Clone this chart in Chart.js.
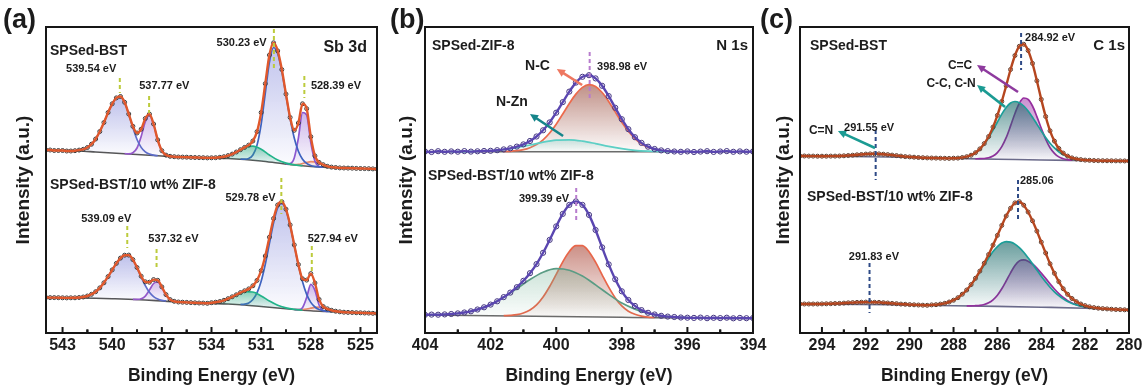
<!DOCTYPE html>
<html>
<head>
<meta charset="utf-8">
<title>XPS Sb 3d / N 1s / C 1s</title>
<script src="https://cdn.jsdelivr.net/npm/chart.js"></script>
<style>
  body { margin: 0; background: #fff; overflow: hidden; }
  #wrap { position: relative; width: 1146px; height: 387px; }
  canvas { position: absolute; top: 0; }
</style>
</head>
<body>
<div id="wrap">
  <canvas id="pa" width="385" height="387" style="left:0"></canvas>
  <canvas id="pb" width="390" height="387" style="left:385px"></canvas>
  <canvas id="pc" width="391" height="387" style="left:755px"></canvas>
</div>
<script>
// energy grids (eV), high -> low as on the axis
const range = (start, step, n) => Array.from({ length: n }, (_, i) => +(start - i * step).toFixed(2));

// ---------- (a) Sb 3d ----------
const aE = range(544, 0.25, 81);
const aTop = [183, 183, 182.5, 182.5, 182.5, 182, 182, 182.3, 182.9, 183.7, 185.5, 188.8, 194, 201.5, 210.5, 220.5,
  229.2, 235.1, 236.5, 230.7, 219, 206.7, 200, 203.8, 214.5, 218.9, 209, 193.1, 182.3, 177.9, 176.7, 176.3, 176,
  175.9, 175.8, 175.6, 175.5, 175.4, 175.3, 175.1, 175.2, 175.3, 175.7, 176.3, 177.4, 178.9, 181, 183.3, 185.6,
  187.9, 192, 201.3, 220.5, 249.3, 277.9, 290.2, 282.1, 263.4, 238.9, 215.6, 202.7, 210, 229.2, 224.3, 196.3,
  177.1, 170.6, 168.3, 166.7, 165.9, 165.5, 165.1, 165, 164.9, 164.8, 164.6, 164.5, 164.4, 164.3, 164.1, 164];
const aBot = [35.5, 35.4, 35.4, 35.3, 35.2, 35.1, 35.2, 35.2, 35.5, 36, 37, 38.7, 41.3, 45.1, 50.2, 56.4, 63.1,
  69.6, 74.9, 77.8, 77.9, 73.4, 65.5, 56.8, 51.2, 50.8, 53.4, 52.7, 46.1, 38.4, 33.4, 31.7, 31, 30.8, 30.6, 30.4,
  30.2, 30, 29.9, 29.7, 30.3, 30.8, 31.5, 32.7, 34.3, 36.2, 38.2, 40.4, 42.2, 44.1, 47.2, 52.6, 62.3, 77, 95.8,
  114.5, 128, 131.2, 123.8, 108.1, 88.1, 68.5, 54.2, 52.9, 59.4, 50, 33.6, 26.5, 24.2, 22.7, 21.8, 21.2, 20.8,
  20.6, 20.5, 20.3, 20.2, 20, 19.9, 19.7, 19.5];
const aBgE = range(544, 1, 21);
const aTopBg = [183, 182.5, 182, 181, 180, 179, 178, 177, 176, 175.5, 175, 174.5, 173.5, 172, 170, 168, 166.5, 165.5, 165, 164.5, 164];
const aBotBg = [35.5, 35.2, 35, 34.7, 34.3, 33.8, 33, 32, 31, 30.2, 29.6, 29, 28, 26.5, 25, 23.5, 22.3, 21.5, 20.8, 20.2, 19.5];
const aTopP1 = [182, 182.3, 182.9, 183.7, 185.5, 188.8, 194, 201.5, 210.5, 220.5, 229.2, 235.1, 236.5, 230.7, 218.8, 205.2, 193.5, 185.6, 181.1, 178.9, 177.8, 177.3];
const aTopP2 = [179.3, 179.2, 180.3, 185, 196.5, 211.4, 217.8, 208.7, 193.1, 182.3, 177.9, 176.7, 176.3];
const aTopP3 = [175.3, 175.2, 175.7, 177.4, 181, 185.3, 186.8, 183.8, 178, 172.9, 169.9, 168.2, 167.3];
const aTopP4 = [173.8, 173.8, 174.5, 178, 187.9, 208.7, 239.8, 270.9, 285.5, 279.2, 261.7, 238, 214.3, 195, 181.7, 173.8, 169.6, 167.5, 166.6, 166.2, 165.8];
const aTopP5 = [169, 169.4, 175.1, 194.9, 220.5, 217.9, 190.5, 171.9, 166.6, 165.8];
const aTopP6 = [168.6, 168.4, 168.6, 169.5, 170.6, 171.3, 171.2, 170, 168.3, 166.7, 165.9, 165.5, 165.1];
const aBotP1 = [35.2, 35.2, 35.5, 36, 37, 38.7, 41.3, 45.1, 50.2, 56.4, 63.1, 69.6, 74.9, 77.8, 77.9, 73.4, 65.3, 55.8, 47.3, 40.7, 36.4, 34, 32.7, 32.1];
const aBotP2 = [33.6, 33.6, 34.2, 36.9, 42.9, 49.5, 51, 45.4, 38.1, 33.4, 31.7, 31];
const aBotP3 = [30.1, 30.3, 31.5, 34.3, 38.2, 41.3, 41, 37.1, 32, 27.7, 25.2, 23.7, 22.9];
const aBotP4 = [28.6, 28.9, 30.1, 33.5, 40.1, 51.7, 68.7, 89.6, 110.3, 125.3, 129.6, 122.9, 107.7, 87.9, 68.1, 51.2, 38.6, 30.6, 26, 23.5, 22.3, 21.7, 21.4];
const aBotP5 = [23.5, 23.4, 25.3, 35.5, 48.6, 42.6, 28, 22.4, 21.5];
const aBotP6 = [23.5, 23.4, 23.5, 24, 24.8, 25.6, 25.9, 25.2, 24, 22.7, 21.8, 21.2, 20.8];
const aTopPeaks = [539.54, 537.77, 530.23, 528.39];
const aBotPeaks = [539.09, 537.32, 529.78, 527.94];

// ---------- (b) N 1s ----------
const bE = range(404, 0.2, 51);
const bTop = [181.5, 181, 181.8, 181.2, 181.6, 181.3, 181.9, 181.4, 181.7, 182, 182.2, 182.8, 183.6, 184.7, 186.4,
  188.6, 192, 196.5, 202.7, 210.6, 220.3, 230.9, 241.4, 250.4, 256.2, 257.8, 254.6, 247.2, 236.9, 225.2, 213.8,
  203.8, 195.8, 190.1, 186.3, 184, 182.6, 181.9, 181.5, 181.2, 181.6, 181, 181.4, 181.8, 181.1, 181.5, 181.9,
  181.2, 181.6, 181.3, 181.5];
const bBot = [18.2, 18.4, 18.3, 18.6, 19, 19.6, 20.5, 21.7, 23.5, 25.7, 28.4, 31.7, 35.9, 40.4, 45.8, 52.2, 59.8,
  68.9, 80.2, 93.1, 106.6, 119.1, 128.1, 131.6, 128.1, 118.1, 103, 85.6, 68.6, 53.7, 41.7, 33, 27.1, 22.9, 20.2,
  18.5, 17.2, 16.4, 16, 15.5, 15.3, 15.1, 15.4, 14.8, 15.2, 14.9, 15.3, 14.7, 15.1, 14.8, 15];
const bTopBgE = [404, 394];
const bTopBg = [181.3, 181.3];
const bBotBgE = [404, 402, 400, 398, 397, 396, 394];
const bBotBg = [18, 17.3, 16.5, 15.7, 15.3, 15, 14.5];
const bTopNC = [181.5, 181.7, 182.3, 183.3, 185.3, 188.4, 193.2, 200, 208.8, 219, 229.5, 238.9, 245.6, 248.3, 246.5, 240.5, 231.6, 221.1, 210.8, 201.7, 194.4, 189.2, 185.7, 183.6, 182.4, 181.8, 181.5];
const bTopNZn = [181.3, 181.4, 181.7, 182.2, 183.4, 185.4, 188, 190.8, 192.8, 193.2, 191.9, 189.4, 186.6, 184.3, 182.7, 181.9, 181.5, 181.3];
const bBotNC = [17.3, 17.6, 18.3, 20, 23, 28.1, 36, 46.5, 58.7, 71.2, 81.5, 87.4, 87.3, 81.3, 70.8, 58.1, 45.8, 35.1, 27.1, 21.8, 18.7, 16.8, 15.9, 15.5];
const bBotNZn = [18.2, 18.3, 19, 20.5, 23.5, 28.4, 35.7, 44.4, 53.5, 60.8, 64.3, 62.8, 56.9, 48.1, 38.6, 29.9, 23.9, 19.6, 17.2, 16, 15.3, 14.9];
const bTopPeaks = [398.98];
const bBotPeaks = [399.39];

// ---------- (c) C 1s ----------
const cE = range(295, 0.2, 76);
const cTop = [177, 177, 176.9, 176.9, 176.8, 176.8, 176.8, 176.9, 176.9, 177, 177.2, 177.5, 177.8, 178.2, 178.5,
  178.9, 179.1, 179.2, 179.1, 178.8, 178.4, 177.9, 177.4, 176.9, 176.4, 176.1, 175.8, 175.5, 175.3, 175.1, 175,
  174.9, 174.8, 174.7, 174.6, 174.8, 174.9, 175.5, 176.3, 177.8, 180.3, 184.1, 189.4, 196.5, 205.9, 217.6, 231.6,
  247.2, 263.5, 277.5, 286.7, 288.7, 282.5, 269.6, 252.2, 233.6, 216.5, 202.2, 191.9, 184.5, 179.9, 176.9, 175.1,
  174, 173.4, 172.9, 172.7, 172.5, 172.35, 172.3, 172.25, 172.2, 172.15, 172.1, 172.05, 172];
const cBot = [29, 29, 29, 29, 29, 29.1, 29.2, 29.3, 29.5, 29.6, 29.9, 30.2, 30.4, 30.6, 30.8, 30.9, 30.9, 30.7,
  30.6, 30.3, 30, 29.6, 29.3, 28.9, 28.7, 28.4, 28.2, 28, 27.8, 27.7, 28.1, 28.3, 28.9, 29.7, 31, 32.8, 35.3, 38.8,
  43, 48.4, 54.7, 61.9, 69.8, 78.5, 87.9, 97.6, 107.6, 117, 124.7, 130.1, 131.3, 127.8, 121, 112.2, 101.9, 90.9,
  80, 69.2, 59.7, 51.3, 44.3, 38.7, 34.5, 31.4, 29, 27.4, 26.2, 25.4, 24.8, 24.4, 24.1, 23.8, 23.5, 23.4, 23.2, 23];
const cBgE = [295, 291, 288, 286, 284, 282, 280];
const cTopBg = [177, 176, 174.5, 173.8, 173, 172.5, 172];
const cBotBg = [29, 28.2, 27.3, 26.6, 25.8, 24.8, 23];
const cTopCC = [174.8, 174.9, 175.5, 176.3, 177.8, 180.3, 183.9, 188.9, 195.2, 202.9, 211, 218.9, 225.5, 230, 231.5, 230.3, 227, 222, 215.8, 208.9, 202, 195.6, 189.8, 185.1, 181.2, 178.4, 176.3, 174.9, 174, 173.4, 172.9];
const cTopC2 = [174.2, 174.3, 174.5, 175.2, 176.9, 180.4, 186.4, 195.3, 207.1, 219.5, 229.8, 235, 233.7, 227, 216.4, 204.6, 193.9, 185.3, 179.7, 176.1, 174.3, 173.3, 172.9];
const cTopCN = [176.8, 176.9, 177.2, 178, 178.9, 179.2, 178.4, 177.2, 176.1, 175.4, 175];
const cBotCC = [28.1, 28.3, 28.9, 29.7, 31, 32.8, 35.3, 38.8, 43, 48.3, 54.4, 61.2, 68.1, 75, 81.4, 86.4, 89.9, 91.4, 90.9, 88.9, 85.4, 80.8, 75.2, 69.2, 62.9, 56.8, 51.1, 45.7, 41.2, 37.3, 34.1, 31.5, 29.5, 28.1, 26.9, 26.1, 25.4, 24.9];
const cBotC2 = [27.1, 27.1, 27.3, 27.6, 28.5, 30.2, 33.2, 37.8, 44.2, 52, 60.2, 67.5, 72.1, 73.1, 71.8, 69, 64.9, 59.9, 54.6, 49.1, 44, 39.4, 35.5, 32.4, 30.1, 28.3, 27, 26.1, 25.4, 24.9];
const cBotCN = [29.1, 29.4, 29.9, 30.5, 30.9, 30.8, 30, 29.2, 28.5, 28];
const cTopPeaks = [284.92, 291.55];
const cBotPeaks = [285.06, 291.83];

// ---------- drawing helpers ----------
const FONT = "'Liberation Sans', Arial, sans-serif";
const INK = '#1c1c1c';
const xy = (xs, ys) => ys.map((y, i) => ({ x: xs[i], y }));

function base(xs, ys, color) {
  return { data: xy(xs, ys), borderColor: color, borderWidth: 1.6, pointRadius: 0,
    cubicInterpolationMode: 'monotone', fill: false, order: 5 };
}
function comp(xs, ys, line, rgb, bgIdx, alpha) {
  const hi = Math.max(...ys), lo = Math.min(...ys);
  return {
    data: xy(xs, ys), borderColor: line, borderWidth: 1.7, pointRadius: 0,
    cubicInterpolationMode: 'monotone', order: 4,
    fill: rgb ? { target: bgIdx } : false,
    backgroundColor: c => {
      const { ctx, chartArea, scales } = c.chart;
      if (!chartArea || !rgb) return 'rgba(0,0,0,0)';
      const g = ctx.createLinearGradient(0, scales.y.getPixelForValue(hi), 0, scales.y.getPixelForValue(lo));
      g.addColorStop(0, `rgba(${rgb},${alpha || 0.6})`);
      g.addColorStop(1, `rgba(${rgb},0.02)`);
      return g;
    }
  };
}
function raw(xs, ys, color, r) {
  return { data: xy(xs, ys), showLine: false, pointRadius: r, pointBorderColor: color,
    pointBackgroundColor: 'rgba(255,255,255,0)', pointBorderWidth: 1, order: 2 };
}
function fit(xs, ys, color) {
  return { data: xy(xs, ys), borderColor: color, borderWidth: 2.4, pointRadius: 0,
    cubicInterpolationMode: 'monotone', fill: false, order: 1 };
}

function arrow(ctx, x1, y1, x2, y2, color) {
  const ang = Math.atan2(y2 - y1, x2 - x1), h = 9;
  ctx.strokeStyle = color; ctx.fillStyle = color; ctx.lineWidth = 2.6;
  ctx.beginPath(); ctx.moveTo(x1, y1);
  ctx.lineTo(x2 - Math.cos(ang) * h * 0.7, y2 - Math.sin(ang) * h * 0.7); ctx.stroke();
  ctx.beginPath(); ctx.moveTo(x2, y2);
  ctx.lineTo(x2 - h * Math.cos(ang - 0.45), y2 - h * Math.sin(ang - 0.45));
  ctx.lineTo(x2 - h * Math.cos(ang + 0.45), y2 - h * Math.sin(ang + 0.45));
  ctx.closePath(); ctx.fill();
}

const decor = {
  id: 'decor',
  afterDatasetsDraw(chart, args, o) {
    const { ctx, chartArea: a, scales: { x, y } } = chart;
    ctx.save();
    ctx.strokeStyle = o.markColor; ctx.lineWidth = 2; ctx.setLineDash([4, 3]);
    o.peaks.forEach(p => {
      const px = x.getPixelForValue(p.e);
      ctx.beginPath();
      ctx.moveTo(px, y.getPixelForValue(p.y1)); ctx.lineTo(px, y.getPixelForValue(p.y2));
      ctx.stroke();
    });
    ctx.setLineDash([]);
    (o.arrows || []).forEach(r => arrow(ctx, x.getPixelForValue(r.x1), y.getPixelForValue(r.y1),
      x.getPixelForValue(r.x2), y.getPixelForValue(r.y2), r.color));
    ctx.fillStyle = INK; ctx.textBaseline = 'middle';
    o.peaks.forEach(p => {
      ctx.font = `bold 11px ${FONT}`; ctx.textAlign = p.align || 'center';
      ctx.fillText(p.unit === false ? p.e.toFixed(2) : p.e.toFixed(2) + ' eV',
        x.getPixelForValue(p.tx), y.getPixelForValue(p.ty));
    });
    (o.notes || []).forEach(t => {
      ctx.font = `bold ${t.size}px ${FONT}`; ctx.textAlign = 'center';
      ctx.fillText(t.text, x.getPixelForValue(t.x), y.getPixelForValue(t.y));
    });
    o.corner.forEach(t => {
      ctx.font = `bold ${t.size}px ${FONT}`;
      ctx.textAlign = t.right ? 'right' : 'left';
      ctx.fillText(t.text, t.right ? a.right - t.dx : a.left + t.dx, a.top + t.dy);
    });
    ctx.restore();
  },
  afterDraw(chart, args, o) {
    const { ctx, chartArea: a, scales: { x } } = chart;
    ctx.save();
    ctx.strokeStyle = '#161616'; ctx.lineWidth = 2;
    ctx.strokeRect(a.left, a.top, a.right - a.left, a.bottom - a.top);
    const majors = x.ticks.map(t => t.value);
    const tick = (v, len) => {
      const p = x.getPixelForValue(v);
      ctx.beginPath(); ctx.moveTo(p, a.bottom); ctx.lineTo(p, a.bottom - len); ctx.stroke();
    };
    majors.forEach(v => tick(v, 6));
    majors.forEach(v => [v - o.step / 2, v + o.step / 2].forEach(m => {
      if (m > x.min && m < x.max) tick(m, 3.5);
    }));
    ctx.fillStyle = INK; ctx.font = `bold 27px ${FONT}`;
    ctx.textAlign = 'left'; ctx.textBaseline = 'middle';
    ctx.fillText(o.tag, o.tagX, 21);
    ctx.restore();
  }
};

function panel(id, p) {
  new Chart(document.getElementById(id), {
    type: 'line',
    data: { datasets: p.datasets },
    options: {
      responsive: false,
      animation: false,
      events: [],
      layout: { padding: { top: 27, right: p.padRight, left: 0, bottom: 0 } },
      plugins: { legend: { display: false }, tooltip: { enabled: false }, decor: p.decor },
      scales: {
        x: {
          type: 'linear', reverse: true, min: p.min, max: p.max,
          ticks: { stepSize: p.decor.step, includeBounds: false, autoSkip: false, maxRotation: 0,
            padding: 3, color: INK, font: { family: FONT, size: 16, weight: 'bold' } },
          grid: { display: false, drawTicks: false }, border: { display: false },
          title: { display: true, text: 'Binding Energy (eV)', color: INK,
            font: { family: FONT, size: 17.5, weight: 'bold' }, padding: { top: 0, bottom: 0 } },
          afterFit: s => { s.height = 54; }
        },
        y: {
          min: 0, max: 306,
          ticks: { display: false }, grid: { display: false, drawTicks: false }, border: { display: false },
          title: { display: true, text: 'Intensity (a.u.)', color: INK,
            font: { family: FONT, size: 19, weight: 'bold' }, padding: { top: p.titlePad, bottom: 0 } },
          afterFit: s => { s.width = p.yWidth; }
        }
      }
    },
    plugins: [decor]
  });
}

// (a)
panel('pa', {
  min: 524, max: 544, padRight: 8, yWidth: 46, titlePad: 12.6,
  datasets: [
    base(aBgE, aTopBg, '#555555'),
    base(aBgE, aBotBg, '#555555'),
    comp(range(542.5, 0.25, 22), aTopP1, '#5d6cc9', '125,130,215', 0, 0.5),
    comp(range(539.25, 0.25, 13), aTopP2, '#9657c9', '165,120,215', 0, 0.5),
    comp(range(534.5, 0.5, 13), aTopP3, '#22b38a', '40,170,130', 0, 0.55),
    comp(range(532.25, 0.25, 21), aTopP4, '#3f63c0', '130,135,218', 0, 0.5),
    comp(range(529.5, 0.25, 10), aTopP5, '#8b55cf', '155,110,215', 0, 0.5),
    comp(range(529.25, 0.25, 13), aTopP6, '#f08a5d', '240,150,110', 0, 0.3),
    comp(range(542.5, 0.25, 24), aBotP1, '#5d6cc9', '125,130,215', 1, 0.5),
    comp(range(538.75, 0.25, 12), aBotP2, '#9657c9', '165,120,215', 1, 0.5),
    comp(range(534.5, 0.5, 13), aBotP3, '#22b38a', '40,170,130', 1, 0.55),
    comp(range(532.25, 0.25, 23), aBotP4, '#3f63c0', '130,135,218', 1, 0.5),
    comp(range(529, 0.25, 9), aBotP5, '#8b55cf', '155,110,215', 1, 0.5),
    comp(range(529, 0.25, 13), aBotP6, '#f08a5d', '240,150,110', 1, 0.3),
    raw(aE, aTop, '#3a3a3a', 2),
    raw(aE, aBot, '#3a3a3a', 2),
    fit(aE, aTop, '#e0582c'),
    fit(aE, aBot, '#e0582c')
  ],
  decor: {
    tag: '(a)', tagX: 3, step: 3, markColor: '#bccb3c',
    peaks: [
      { e: aTopPeaks[0], y1: 255, y2: 240, tx: 541.27, ty: 264 },
      { e: aTopPeaks[1], y1: 237, y2: 220, tx: 536.85, ty: 247 },
      { e: aTopPeaks[2], y1: 304, y2: 264, tx: 532.18, ty: 290.5 },
      { e: aTopPeaks[3], y1: 257, y2: 235, tx: 526.48, ty: 247 },
      { e: aBotPeaks[0], y1: 107, y2: 85, tx: 540.36, ty: 114 },
      { e: aBotPeaks[1], y1: 84, y2: 64, tx: 536.3, ty: 94 },
      { e: aBotPeaks[2], y1: 155, y2: 119, tx: 531.64, ty: 135 },
      { e: aBotPeaks[3], y1: 87, y2: 62, tx: 526.67, ty: 94 }
    ],
    corner: [
      { text: 'SPSed-BST', dx: 4, dy: 24, size: 14 },
      { text: 'Sb 3d', dx: 10, dy: 21, size: 16, right: true },
      { text: 'SPSed-BST/10 wt% ZIF-8', dx: 4, dy: 158, size: 14 }
    ]
  }
});

// (b)
panel('pb', {
  min: 394, max: 404, padRight: 22, yWidth: 40, titlePad: 10.6,
  datasets: [
    base(bTopBgE, bTopBg, '#6a6a6a'),
    base(bBotBgE, bBotBg, '#6a6a6a'),
    comp(range(403.2, 0.4, 18), bTopNZn, '#5ccfc5', '120,210,200', 0, 0.35),
    comp(range(401.6, 0.2, 27), bTopNC, '#ec6a4c', '150,70,55', 0, 0.6),
    comp(range(404, 0.4, 22), bBotNZn, '#5a9c84', '110,175,145', 1, 0.35),
    comp(range(401.6, 0.2, 24), bBotNC, '#e8664a', '170,70,55', 1, 0.6),
    raw(bE, bTop, '#43357f', 2.6),
    raw(bE, bBot, '#43357f', 2.6),
    fit(bE, bTop, '#5a46b0'),
    fit(bE, bBot, '#5a46b0')
  ],
  decor: {
    tag: '(b)', tagX: 5, step: 2, markColor: '#b77ccd',
    peaks: [
      { e: bTopPeaks[0], y1: 281, y2: 233, tx: 397.99, ty: 266 },
      { e: bBotPeaks[0], y1: 145, y2: 110, tx: 400.37, ty: 134 }
    ],
    notes: [
      { text: 'N-C', x: 400.57, y: 267, size: 14 },
      { text: 'N-Zn', x: 401.35, y: 231, size: 14 }
    ],
    arrows: [
      { x1: 399.21, y1: 248, x2: 399.98, y2: 264, color: '#ee7760' },
      { x1: 399.79, y1: 197, x2: 400.8, y2: 219, color: '#16858a' }
    ],
    corner: [
      { text: 'SPSed-ZIF-8', dx: 7, dy: 19, size: 14 },
      { text: 'N 1s', dx: 5, dy: 19, size: 15, right: true },
      { text: 'SPSed-BST/10 wt% ZIF-8', dx: 3, dy: 149, size: 14 }
    ]
  }
});

// (c)
panel('pc', {
  min: 280, max: 295, padRight: 17, yWidth: 45, titlePad: 17.6,
  datasets: [
    base(cBgE, cTopBg, '#6b6b8a'),
    base(cBgE, cBotBg, '#6b6b8a'),
    comp(range(294, 0.5, 11), cTopCN, '#77778f', null, 0),
    comp(range(288, 0.2, 31), cTopCC, '#1c9e98', '25,105,105', 0, 0.65),
    comp(range(287, 0.2, 23), cTopC2, '#962e9f', '160,50,170', 0, 0.55),
    comp(range(294, 0.5, 10), cBotCN, '#77778f', null, 1),
    comp(range(289, 0.2, 38), cBotCC, '#1c9e98', '25,105,105', 1, 0.65),
    comp(range(287.4, 0.2, 30), cBotC2, '#962e9f', '160,50,170', 1, 0.5),
    raw(cE, cTop, '#5c3a2a', 2),
    raw(cE, cBot, '#5c3a2a', 2),
    fit(cE, cTop, '#b5461f'),
    fit(cE, cBot, '#b5461f')
  ],
  decor: {
    tag: '(c)', tagX: 5, step: 2, markColor: '#2e4a86',
    peaks: [
      { e: cTopPeaks[0], y1: 300, y2: 263, tx: 284.74, ty: 295, align: 'left' },
      { e: cTopPeaks[1], y1: 203, y2: 153, tx: 291.85, ty: 205 },
      { e: cBotPeaks[0], y1: 153, y2: 113, tx: 284.97, ty: 152, align: 'left', unit: false },
      { e: cBotPeaks[1], y1: 70, y2: 20, tx: 291.63, ty: 76 }
    ],
    notes: [
      { text: 'C=C', x: 287.7, y: 267, size: 12 },
      { text: 'C-C, C-N', x: 288.11, y: 249, size: 12 },
      { text: 'C=N', x: 294.04, y: 202, size: 12 }
    ],
    arrows: [
      { x1: 285.06, y1: 241, x2: 286.93, y2: 268, color: '#8e3a9e' },
      { x1: 285.65, y1: 226, x2: 286.93, y2: 248, color: '#1b9b93' },
      { x1: 291.58, y1: 185, x2: 293.27, y2: 202, color: '#1b9b93' }
    ],
    corner: [
      { text: 'SPSed-BST', dx: 10, dy: 19, size: 14 },
      { text: 'C 1s', dx: 4, dy: 19, size: 15, right: true },
      { text: 'SPSed-BST/10 wt% ZIF-8', dx: 7, dy: 170, size: 14 }
    ]
  }
});
</script>
</body>
</html>
